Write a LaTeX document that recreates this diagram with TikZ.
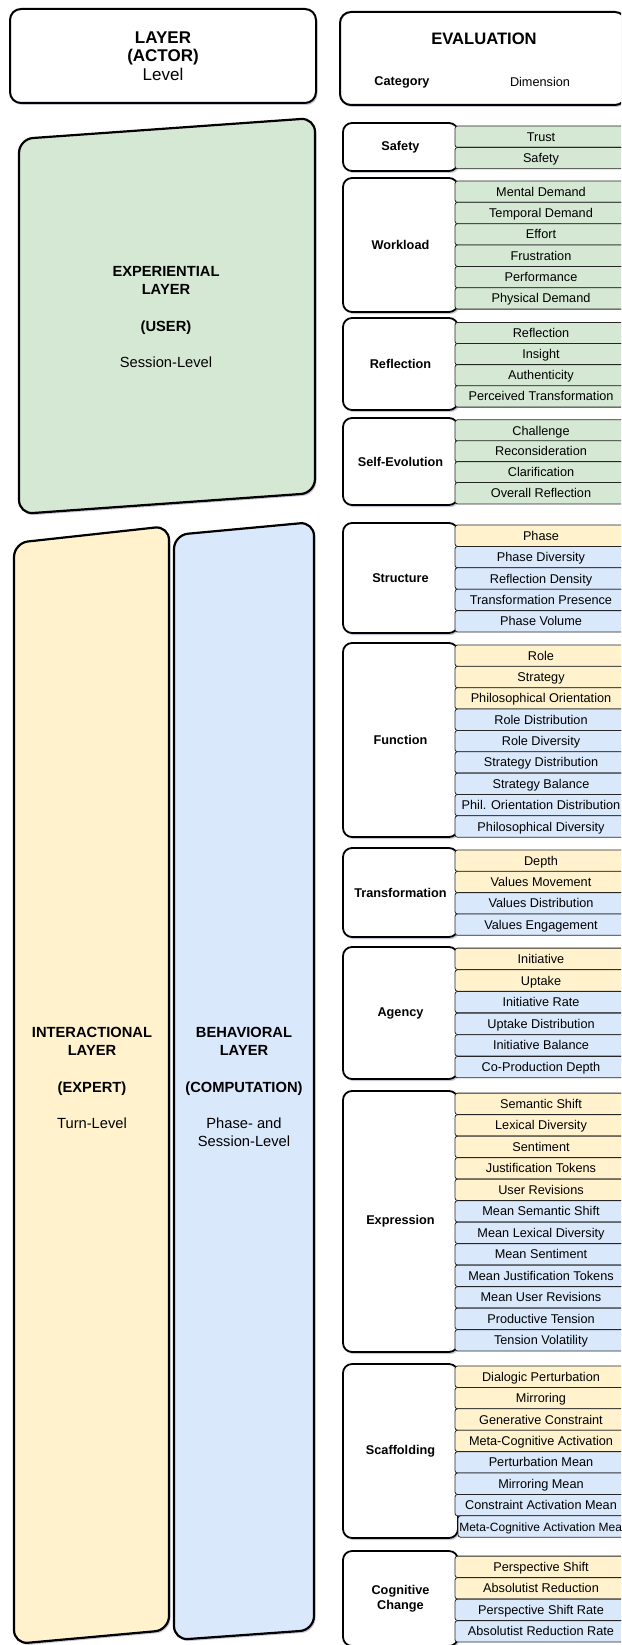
\documentclass[tikz,border=0pt]{standalone}
\usepackage{fontspec}
\setmainfont{Liberation Sans}
\usepackage{tikz}
\usetikzlibrary{shadows}

\definecolor{expgreen}{HTML}{D5E8D4}
\definecolor{intyellow}{HTML}{FFF2CC}
\definecolor{behblue}{HTML}{DAE8FC}

\tikzset{
  softshadow/.style={drop shadow={shadow xshift=1.5pt, shadow yshift=-2pt, opacity=0.22, fill=black!70!blue}},
  headbox/.style={shape=rectangle, draw=black, line width=2pt, rounded corners=11pt, fill=white, softshadow},
  catbox/.style={shape=rectangle, draw=black, line width=1.8pt, rounded corners=9pt, fill=white, minimum width=115pt, inner sep=0pt, align=center, font=\fontsize{12.7}{15}\selectfont, softshadow},
  cell/.style={shape=rectangle, draw=black!85, line width=0.8pt, rounded corners=2.5pt, minimum width=172pt, minimum height=21.4pt, inner sep=0pt, text height=9.1pt, text depth=0pt, font=\fontsize{12.7}{15}\selectfont},
  gcell/.style={cell, fill=expgreen},
  ycell/.style={cell, fill=intyellow},
  bcell/.style={cell, fill=behblue},
  layerbox/.style={draw=black, line width=2.2pt, rounded corners=14pt, softshadow},
  layertext/.style={align=center, font=\fontsize{14.7}{18.2}\selectfont},
}

\begin{document}
\begin{tikzpicture}[x=1pt, y=-1pt]

	\useasboundingbox (0,0) rectangle (621,1645);
	\clip (0,0) rectangle (621,1645);

	\node[headbox, minimum width=306pt, minimum height=94pt, align=center, font=\fontsize{17}{18.5}\selectfont] (layhead) at (163, 56) {\textbf{LAYER}\\\textbf{(ACTOR)}\\Level};
	\node[headbox, minimum width=286pt, minimum height=93pt] (evalhead) at (483, 58.5) {};
	\node[font=\fontsize{16.6}{20}\selectfont] (evaltitle) at (484, 39) {\textbf{EVALUATION}};
	\node[font=\fontsize{12.7}{15}\selectfont] (evalcat) at (402, 82) {\textbf{Category}};
	\node[font=\fontsize{12.7}{15}\selectfont] (evaldim) at (540, 82) {Dimension};

	\draw[layerbox, fill=expgreen] (19,139) -- (315,118) -- (315,493) -- (19,514) -- cycle;
	\draw[layerbox, fill=intyellow] (14,543) -- (169,526) -- (169,1630) -- (14,1644) -- cycle;
	\draw[layerbox, fill=behblue] (174,535) -- (314,522) -- (314,1630) -- (174,1640) -- cycle;

	\node[layertext] (exp) at (166, 317) {\textbf{EXPERIENTIAL}\\\textbf{LAYER}\\[18.2pt]\textbf{(USER)}\\[18.2pt]Session-Level};
	\node[layertext] (int) at (92, 1078) {\textbf{INTERACTIONAL}\\\textbf{LAYER}\\[18.2pt]\textbf{(EXPERT)}\\[18.2pt]Turn-Level};
	\node[layertext] (beh) at (244, 1087) {\textbf{BEHAVIORAL}\\\textbf{LAYER}\\[18.2pt]\textbf{(COMPUTATION)}\\[18.2pt]Phase- and\\Session-Level};

	\node[catbox, minimum height=48pt] (saf) at (400.5, 147) {\textbf{Safety}};
	\node[catbox, minimum height=134pt] (work) at (400.5, 245) {\textbf{Workload}};
	\node[catbox, minimum height=92pt] (refl) at (400.5, 364) {\textbf{Reflection}};
	\node[catbox, minimum height=87pt] (self) at (400.5, 461.5) {\textbf{Self-Evolution}};
	\node[catbox, minimum height=110pt] (struc) at (400.5, 578) {\textbf{Structure}};
	\node[catbox, minimum height=194pt] (func) at (400.5, 740) {\textbf{Function}};
	\node[catbox, minimum height=89pt] (trans) at (400.5, 892.5) {\textbf{Transformation}};
	\node[catbox, minimum height=132pt] (agen) at (400.5, 1013) {\textbf{Agency}};
	\node[catbox, minimum height=261pt] (expr) at (400.5, 1221.5) {\textbf{Expression}};
	\node[catbox, minimum height=174pt] (scaf) at (400.5, 1451) {\textbf{Scaffolding}};
	\node[catbox, minimum height=95pt] (cogn) at (400.5, 1598.5) {\textbf{Cognitive}\\\textbf{Change}};

	\node[gcell] (saf1) at (541, 136.7) {Trust};
	\node[gcell] (saf2) at (541, 158.1) {Safety};

	\node[gcell] (work1) at (541, 191.7) {Mental Demand};
	\node[gcell] (work2) at (541, 213.0) {Temporal Demand};
	\node[gcell] (work3) at (541, 234.4) {Effort};
	\node[gcell] (work4) at (541, 255.7) {Frustration};
	\node[gcell] (work5) at (541, 277.1) {Performance};
	\node[gcell] (work6) at (541, 298.4) {Physical Demand};

	\node[gcell] (refl1) at (541, 333.1) {Reflection};
	\node[gcell] (refl2) at (541, 354.2) {Insight};
	\node[gcell] (refl3) at (541, 375.3) {Authenticity};
	\node[gcell] (refl4) at (541, 396.4) {Perceived Transformation};

	\node[gcell] (self1) at (541, 430.5) {Challenge};
	\node[gcell] (self2) at (541, 451.4) {Reconsideration};
	\node[gcell] (self3) at (541, 472.3) {Clarification};
	\node[gcell] (self4) at (541, 493.2) {Overall Reflection};

	\node[ycell] (struc1) at (541, 535.7) {Phase};
	\node[bcell] (struc2) at (541, 557.1) {Phase Diversity};
	\node[bcell] (struc3) at (541, 578.5) {Reflection Density};
	\node[bcell] (struc4) at (541, 599.9) {Transformation Presence};
	\node[bcell] (struc5) at (541, 621.3) {Phase Volume};

	\node[ycell] (func1) at (541, 655.7) {Role};
	\node[ycell] (func2) at (541, 677.0) {Strategy};
	\node[ycell] (func3) at (541, 698.4) {Philosophical Orientation};
	\node[bcell] (func4) at (541, 719.7) {Role Distribution};
	\node[bcell] (func5) at (541, 741.1) {Role Diversity};
	\node[bcell] (func6) at (541, 762.4) {Strategy Distribution};
	\node[bcell] (func7) at (541, 783.8) {Strategy Balance};
	\node[bcell] (func8) at (541, 805.1) {Phil. Orientation Distribution};
	\node[bcell] (func9) at (541, 826.5) {Philosophical Diversity};

	\node[ycell] (trans1) at (541, 860.7) {Depth};
	\node[ycell] (trans2) at (541, 882.0) {Values Movement};
	\node[bcell] (trans3) at (541, 903.3) {Values Distribution};
	\node[bcell] (trans4) at (541, 924.6) {Values Engagement};

	\node[ycell] (agen1) at (541, 958.8) {Initiative};
	\node[ycell] (agen2) at (541, 980.5) {Uptake};
	\node[bcell] (agen3) at (541, 1002.1) {Initiative Rate};
	\node[bcell] (agen4) at (541, 1023.8) {Uptake Distribution};
	\node[bcell] (agen5) at (541, 1045.4) {Initiative Balance};
	\node[bcell] (agen6) at (541, 1067.1) {Co-Production Depth};

	\node[ycell] (expr1) at (541, 1103.8) {Semantic Shift};
	\node[ycell] (expr2) at (541, 1125.3) {Lexical Diversity};
	\node[ycell] (expr3) at (541, 1146.8) {Sentiment};
	\node[ycell] (expr4) at (541, 1168.3) {Justification Tokens};
	\node[ycell] (expr5) at (541, 1189.8) {User Revisions};
	\node[bcell] (expr6) at (541, 1211.3) {Mean Semantic Shift};
	\node[bcell] (expr7) at (541, 1232.8) {Mean Lexical Diversity};
	\node[bcell] (expr8) at (541, 1254.3) {Mean Sentiment};
	\node[bcell] (expr9) at (541, 1275.8) {Mean Justification Tokens};
	\node[bcell] (expr10) at (541, 1297.3) {Mean User Revisions};
	\node[bcell] (expr11) at (541, 1318.8) {Productive Tension};
	\node[bcell] (expr12) at (541, 1340.3) {Tension Volatility};

	\node[ycell] (scaf1) at (541, 1376.7) {Dialogic Perturbation};
	\node[ycell] (scaf2) at (541, 1398.1) {Mirroring};
	\node[ycell] (scaf3) at (541, 1419.5) {Generative Constraint};
	\node[ycell] (scaf4) at (541, 1440.9) {Meta-Cognitive Activation};
	\node[bcell] (scaf5) at (541, 1462.3) {Perturbation Mean};
	\node[bcell] (scaf6) at (541, 1483.7) {Mirroring Mean};
	\node[bcell] (scaf7) at (541, 1505.1) {Constraint Activation Mean};
	\node[bcell, font=\fontsize{12}{14}\selectfont] (scaf8) at (544, 1526.5) {Meta-Cognitive Activation Mean};

	\node[ycell] (cogn1) at (541, 1566.8) {Perspective Shift};
	\node[ycell] (cogn2) at (541, 1588.3) {Absolutist Reduction};
	\node[bcell] (cogn3) at (541, 1609.8) {Perspective Shift Rate};
	\node[bcell] (cogn4) at (541, 1631.3) {Absolutist Reduction Rate};

\end{tikzpicture}
\end{document}
